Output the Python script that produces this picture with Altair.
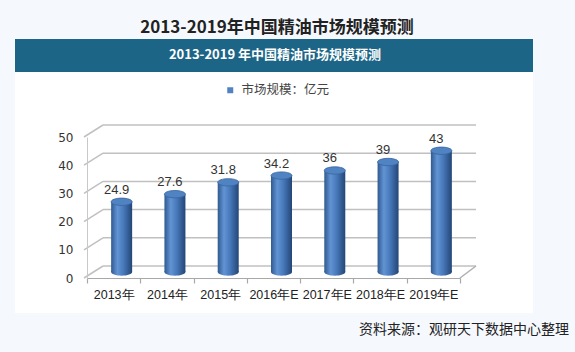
import altair as alt
import pandas as pd

# ---- data ----
years = ["2013年", "2014年", "2015年", "2016年E", "2017年E", "2018年E", "2019年E"]
values = [24.9, 27.6, 31.8, 34.2, 36, 39, 43]
value_labels = ["24.9", "27.6", "31.8", "34.2", "36", "39", "43"]
y_ticks = [0, 10, 20, 30, 40, 50]
series_name = "市场规模：亿元"
main_title = "2013-2019年中国精油市场规模预测"
banner_title = "2013-2019 年中国精油市场规模预测"
source_note = "资料来源：观研天下数据中心整理"

df = pd.DataFrame({"year": years, "value": values, "label": value_labels,
                   "series": [series_name] * len(years)})
ticks_df = pd.DataFrame({"tick": y_ticks})
one = alt.Data(values=[{"d": 0}])

W, H = 373, 141
DEPTH_X, DEPTH_Y = 16, 12
CJK = "Noto Sans CJK SC"
ELLIPSE = "M-1,0A1,0.35,0,1,0,1,0A1,0.35,0,1,0,-1,0Z"

yscale = alt.Scale(domain=[0, 50], nice=False, zero=True)
xscale = alt.Scale(paddingInner=0, paddingOuter=0)

y_axis = alt.Axis(values=y_ticks, tickCount=6, ticks=False, grid=False, zindex=2,
                  labelOverlap=False, labelFlush=False,
                  domainColor="#c8c8c8", labelFont="DejaVu Sans",
                  labelFontSize=12, labelColor="#333333", labelPadding=14)
x_axis = alt.Axis(labelAngle=0, tickBand="extent", tickSize=5, zindex=2,
                  labelOverlap=False,
                  tickColor="#a8a8a8", domainColor="#a8a8a8",
                  domainWidth=1.2, tickWidth=1.2,
                  labelFont="Liberation Sans", labelFontSize=12.5,
                  labelColor="#222222", labelPadding=5)


def X():
    return alt.X("year:N", sort=years, scale=xscale, title=None, axis=x_axis)


def Y(field):
    return alt.Y(field, type="quantitative", scale=yscale, title=None, axis=y_axis)


body_grad = alt.Gradient(
    gradient="linear", x1=0, x2=1, y1=0, y2=0,
    stops=[alt.GradientStop(offset=0, color="#30598f"),
           alt.GradientStop(offset=0.3, color="#6294d4"),
           alt.GradientStop(offset=0.6, color="#4677b8"),
           alt.GradientStop(offset=1, color="#244676")])

# ---- decorations ----
panel = alt.Chart(one).mark_rect(color="white").encode(
    x=alt.value(-72), x2=alt.value(446), y=alt.value(-98), y2=alt.value(176))
banner = alt.Chart(one).mark_rect(color="#1d6586").encode(
    x=alt.value(-72), x2=alt.value(446), y=alt.value(-98), y2=alt.value(-65))
title_txt = alt.Chart(one).mark_text(
    text=main_title, font=CJK, fontSize=17, fontWeight="bold", color="#222222",
    align="center", baseline="middle").encode(x=alt.value(190), y=alt.value(-109))
banner_txt = alt.Chart(one).mark_text(
    text=banner_title, font=CJK, fontSize=13, fontWeight="bold", color="white",
    align="center", baseline="middle").encode(x=alt.value(188), y=alt.value(-82))
source_txt = alt.Chart(one).mark_text(
    text=source_note, font=CJK, fontSize=14, color="#222222",
    align="right", baseline="middle").encode(x=alt.value(482), y=alt.value(193))

# ---- 3D grid ----
back_grid = alt.Chart(ticks_df).mark_rule(
    color="#c0c0c0", strokeWidth=1.5, yOffset=-DEPTH_Y).encode(
    y=Y("tick"), x=alt.value(DEPTH_X), x2=alt.value(W + DEPTH_X))
diag_grid = alt.Chart(ticks_df).mark_rule(
    color="#c0c0c0", strokeWidth=1.5, y2Offset=-DEPTH_Y).encode(
    y=Y("tick"), y2=alt.Y2("tick"),
    x=alt.value(-3), x2=alt.value(DEPTH_X))
right_diag = alt.Chart(one).mark_rule(
    color="#b0b0b0", strokeWidth=1.5, y2Offset=-DEPTH_Y).transform_calculate(
    zero="0").encode(
    y=Y("zero"), y2=alt.Y2("zero"),
    x=alt.value(W), x2=alt.value(W + DEPTH_X))

# ---- cylinders ----
base = alt.Chart(df)
bottom_cap = base.transform_calculate(zero="0").mark_point(
    shape=ELLIPSE, size=441, filled=True, fill=body_grad, opacity=1,
    strokeWidth=0, xOffset=8, yOffset=-6).encode(x=X(), y=Y("zero"))
body = base.mark_bar(color=body_grad, width=21, xOffset=8, yOffset=-6,
                     y2Offset=-6).encode(x=X(), y=Y("value"))
top_cap = base.mark_point(
    shape=ELLIPSE, size=441, filled=True, opacity=1, stroke="#3a659e",
    strokeWidth=0.8, xOffset=8, yOffset=-6).encode(
    x=X(), y=Y("value"),
    color=alt.Color("series:N", scale=alt.Scale(range=["#5083c2"]),
                    legend=alt.Legend(title=None, orient="none", legendX=137,
                                      legendY=-53, symbolType="square",
                                      symbolSize=36, symbolStrokeWidth=0,
                                      symbolOpacity=1, labelFont=CJK,
                                      labelFontSize=12.5, labelColor="#444444",
                                      padding=0, labelOffset=5)))
labels = base.mark_text(
    dy=-18, xOffset=3, font="Liberation Sans", fontSize=13, color="#333333",
    baseline="middle", align="center").encode(
    x=X(), y=Y("value"), text="label:N")

chart = alt.layer(
    panel, banner, title_txt, banner_txt, source_txt,
    back_grid, diag_grid, right_diag,
    bottom_cap, body, top_cap, labels
).properties(
    width=W, height=H,
    padding={"left": 87, "top": 137, "right": 575 - 87 - W, "bottom": 352 - 137 - H},
    autosize=alt.AutoSizeParams(type="none"),
    background="#f5f9fe",
).configure_view(stroke=None)

chart.save("out.html", embed_options={"renderer": "svg", "actions": False})
